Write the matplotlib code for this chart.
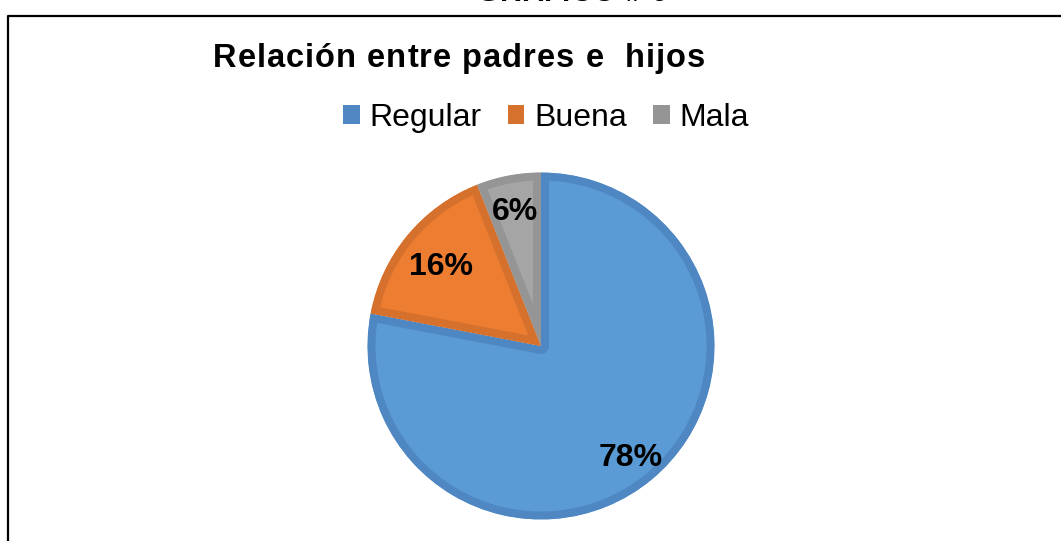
import numpy as np
import matplotlib.pyplot as plt
from matplotlib.patches import Patch
from matplotlib.lines import Line2D

categorias = ['Regular', 'Buena', 'Mala']
porcentajes = [78, 16, 6]
titulo = 'Relación entre padres e  hijos'
encabezado = 'GRÁFICO # 6'

relleno = ['#5B9BD5', '#ED7D31', '#A5A5A5']
borde = ['#4F87C2', '#D6712D', '#959595']
dist_etiqueta = [0.81, 0.75, 0.81]

W, H = 1061, 541
fig = plt.figure(figsize=(W / 100, H / 100), dpi=100)
fig.patch.set_facecolor('white')
renderer = fig.canvas.get_renderer()
plt.rcParams['font.family'] = ['Liberation Sans', 'DejaVu Sans']


def ancho(s, size, weight):
    # ancho en pixeles de s, contando espacios finales
    t = fig.text(0, 0, s + '|', fontsize=size, weight=weight)
    w = t.get_window_extent(renderer).width
    t.remove()
    t = fig.text(0, 0, '|', fontsize=size, weight=weight)
    w -= t.get_window_extent(renderer).width
    t.remove()
    return w


def texto_espaciado(s, x, y, size, total, weight='bold', centro=False):
    # dibuja s letra por letra para imitar el espaciado de Excel
    natural = ancho(s, size, weight)
    gap = (total - natural) / (len(s) - 1)
    x0 = x - total / 2 if centro else x
    for i, ch in enumerate(s):
        if ch == ' ':
            continue
        xi = x0 + (ancho(s[:i], size, weight) if i else 0) + i * gap
        fig.text(xi / W, 1 - y / H, ch, fontsize=size, weight=weight,
                 va='baseline', ha='left')


# encabezado cortado arriba
texto_espaciado(encabezado, 572, 0.7, 21, 190, centro=True)

# marco
fig.add_artist(Line2D([7.5 / W, 7.5 / W, 1], [0, 1 - 16 / H, 1 - 16 / H],
                      transform=fig.transFigure, color='black', lw=1.6))

# titulo
texto_espaciado(titulo, 213, 67, 23.5, 492)

# pastel
cx, cy, R = 541, 346, 173.5
ax = fig.add_axes([(cx - 200) / W, (H - cy - 200) / H, 400 / W, 400 / H])
wedges, textos, pct = ax.pie(
    porcentajes, startangle=90, counterclock=False, radius=R / 200,
    autopct=lambda p: f'{p:.0f}%', pctdistance=0.79,
    wedgeprops=dict(linewidth=11.5, joinstyle='round'),
    textprops=dict(fontsize=23, weight='bold', color='black'))
ax.set_xlim(-1, 1)
ax.set_ylim(-1, 1)
ax.set_aspect('equal')
ax.axis('off')
for w, fc, ec in zip(wedges, relleno, borde):
    w.set_facecolor(fc)
    w.set_edgecolor(ec)
    # borde solo hacia dentro de cada sector
    w.set_clip_on(True)
    w.set_clip_path(w)

# reubicar las etiquetas un poco
for w, t, d in zip(wedges, pct, dist_etiqueta):
    ang = np.deg2rad((w.theta1 + w.theta2) / 2)
    t.set_position((d * w.r * np.cos(ang), d * w.r * np.sin(ang) - 0.02))

# leyenda
handles = [Patch(facecolor=c, edgecolor='none') for c in borde]
fig.legend(handles, categorias, loc='center',
           bbox_to_anchor=(546 / W, 1 - 118 / H), ncol=3, frameon=False,
           fontsize=23, handlelength=0.53, handleheight=0.53,
           handletextpad=0.31, columnspacing=0.81, borderpad=0)

fig.savefig('out.png', dpi=100)
